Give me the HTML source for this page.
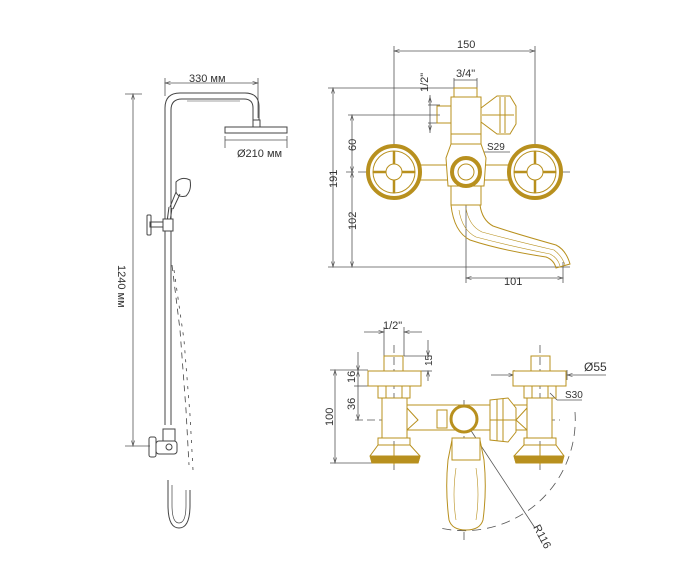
<!DOCTYPE html>
<html><head><meta charset="utf-8"><style>
html,body{margin:0;padding:0;background:#fff;width:700px;height:584px;overflow:hidden}
svg{display:block}
text{font-family:"Liberation Sans",sans-serif;fill:#333}
</style></head><body>
<svg width="700" height="584" viewBox="0 0 700 584" xmlns="http://www.w3.org/2000/svg">
<defs>
<marker id="a" markerWidth="8" markerHeight="6" refX="7" refY="3" orient="auto-start-reverse"><path d="M0,1 L7,3 L0,5" fill="none" stroke="#555" stroke-width="0.8"/></marker>
</defs>
<g stroke="#555" stroke-width="0.8" fill="none">
<!-- ========== SHOWER ========== -->
<line x1="165" y1="83" x2="258" y2="83" marker-start="url(#a)" marker-end="url(#a)"/>
<line x1="165" y1="78" x2="165" y2="96"/><line x1="258" y1="78" x2="258" y2="118"/>
<line x1="133" y1="94" x2="133" y2="446" marker-start="url(#a)" marker-end="url(#a)"/>
<line x1="125" y1="94" x2="142" y2="94"/><line x1="125" y1="446" x2="150" y2="446"/>
<line x1="225" y1="140" x2="287" y2="140"/><line x1="225" y1="136" x2="225" y2="148"/><line x1="287" y1="136" x2="287" y2="148"/>
</g>
<g stroke="#444" stroke-width="1" fill="none">
<path d="M165,425 L165,108 Q165,93 180,93 L245,93 Q259,93 259,107 L259,120"/>
<path d="M171,425 L171,110 Q171,99 182,99 L244,99 Q253,99 253,108 L253,120"/>
<path d="M187,101 L240,101" stroke-width="0.6"/>
<rect x="253" y="120" width="7" height="7"/>
<rect x="225" y="127" width="62" height="6" fill="#fff"/>
<path d="M176,192 L170,207 M180,194 L173,209 M169,207 L167,222 M172,208 L170,222"/>
<path d="M176,182 Q182,176 190,180 Q192,190 186,196 Q178,198 176,192 Z"/>
<rect x="163" y="219" width="10" height="12" fill="#fff"/>
<rect x="150" y="222" width="13" height="5"/>
<rect x="147" y="215" width="4" height="20" rx="1"/>
<rect x="163" y="429" width="12" height="12"/>
<rect x="156" y="441" width="21" height="13" rx="3"/>
<rect x="149" y="437" width="7" height="20" rx="2"/>
<circle cx="169" cy="447" r="3"/>
<path d="M168,480 L168,505 Q168,528 179,528 Q190,528 190,505 L190,490"/>
<path d="M172,485 L172,505 Q172,523 179,523 Q186,523 186,505 L186,490" stroke-width="0.7"/>
<path d="M172,265 L180,330 L186,410 L189,465" stroke-dasharray="6,5" stroke-width="0.8"/>
<path d="M174,270 L184,340 L190,415 L193,470" stroke-dasharray="3,6" stroke-width="0.8"/>
</g>
<text x="189" y="82" font-size="11">330 мм</text>
<text x="237" y="157" font-size="11">Ø210 мм</text>
<text x="0" y="0" font-size="11" transform="translate(118,265) rotate(90)">1240 мм</text>

<!-- ========== TOP FAUCET ========== -->
<g stroke="#555" stroke-width="0.8" fill="none">
<line x1="394" y1="51" x2="535" y2="51" marker-start="url(#a)" marker-end="url(#a)"/>
<line x1="394" y1="46" x2="394" y2="200"/><line x1="535" y1="46" x2="535" y2="200"/>
<line x1="333" y1="88" x2="333" y2="267" marker-start="url(#a)" marker-end="url(#a)"/>
<line x1="328" y1="88" x2="455" y2="88"/>
<line x1="352" y1="115" x2="352" y2="172" marker-start="url(#a)" marker-end="url(#a)"/>
<line x1="352" y1="172" x2="352" y2="267" marker-start="url(#a)" marker-end="url(#a)"/>
<line x1="348" y1="115" x2="440" y2="115"/>
<line x1="328" y1="267" x2="570" y2="267"/>
<line x1="466" y1="278" x2="563" y2="278" marker-start="url(#a)" marker-end="url(#a)"/>
<line x1="466" y1="140" x2="466" y2="283"/><line x1="563" y1="262" x2="563" y2="283"/>
<line x1="430" y1="95" x2="430" y2="133"/>
<line x1="430" y1="97" x2="430" y2="105" marker-start="url(#a)"/>
<line x1="430" y1="123" x2="430" y2="131" marker-end="url(#a)"/>
<line x1="428" y1="105" x2="440" y2="105"/><line x1="428" y1="123" x2="440" y2="123"/>
<line x1="454" y1="80" x2="477" y2="80"/>
<line x1="454" y1="78" x2="454" y2="88"/><line x1="477" y1="78" x2="477" y2="88"/>
<line x1="346" y1="172" x2="572" y2="172" stroke-dasharray="8,4"/>
<line x1="466" y1="100" x2="466" y2="150" stroke-dasharray="8,4"/>
<line x1="470" y1="147" x2="484" y2="152"/><line x1="484" y1="152" x2="510" y2="152"/>
</g>
<text x="457" y="48" font-size="11">150</text>
<text x="456" y="77" font-size="11">3/4"</text>
<text x="0" y="0" font-size="11" transform="translate(428,92) rotate(-90)">1/2"</text>
<text x="0" y="0" font-size="11" transform="translate(337,188) rotate(-90)">191</text>
<text x="0" y="0" font-size="11" transform="translate(356,151) rotate(-90)">60</text>
<text x="0" y="0" font-size="11" transform="translate(356,230) rotate(-90)">102</text>
<text x="504" y="285" font-size="11">101</text>
<text x="487" y="150" font-size="10">S29</text>
<g stroke="#b8901e" stroke-width="1" fill="none">
<rect x="416" y="165" width="98" height="15" fill="#fff"/>
<rect x="451" y="97" width="30" height="40" fill="#fff"/>
<rect x="454" y="88" width="23" height="9"/>
<rect x="437" y="106" width="14" height="17"/>
<path d="M481,108 L497,96 L510,96 L516,106 L516,124 L510,134 L497,134 L481,122 Z" fill="#fff"/>
<path d="M500,97 L500,133 M505,97 L505,133 M482,115 L514,115"/>
<rect x="451" y="134" width="30" height="10" fill="#fff"/>
<path d="M451,144 L446,158 L448,186 L484,186 L486,158 L481,144 Z" fill="#fff"/>
<rect x="451" y="186" width="30" height="19" fill="#fff"/>
<path d="M451,205 Q454,232 470,240 Q500,250 546,257 Q554,260 556,268 L570,264 Q566,250 556,245 Q510,232 493,226 Q482,220 480,205"/>
<path d="M459,210 Q462,230 476,237 Q510,246 550,254 Q558,258 560,266" stroke-width="0.6"/>
<path d="M466,208 Q469,226 482,232 Q515,241 554,250 Q562,256 565,265" stroke-width="0.6"/>
<circle cx="394" cy="172" r="26" stroke-width="4" fill="#fff"/>
<circle cx="394" cy="172" r="21"/>
<circle cx="394" cy="172" r="8"/>
<path d="M394,151 L394,164 M394,180 L394,193 M373,172 L386,172 M402,172 L415,172" stroke-width="2.5"/>
<circle cx="535" cy="172" r="26" stroke-width="4" fill="#fff"/>
<circle cx="535" cy="172" r="21"/>
<circle cx="535" cy="172" r="8"/>
<path d="M535,151 L535,164 M535,180 L535,193 M514,172 L527,172 M543,172 L556,172" stroke-width="2.5"/>
<circle cx="466" cy="172" r="14" stroke-width="4" fill="#fff"/>
<circle cx="466" cy="172" r="8"/>
</g>

<!-- ========== BOTTOM FAUCET ========== -->
<g stroke="#555" stroke-width="0.8" fill="none">
<line x1="364" y1="332" x2="384" y2="332" marker-end="url(#a)"/><line x1="404" y1="332" x2="422" y2="332" marker-start="url(#a)"/>
<line x1="384" y1="327" x2="384" y2="356"/><line x1="404" y1="327" x2="404" y2="356"/>
<line x1="335" y1="370" x2="335" y2="463" marker-start="url(#a)" marker-end="url(#a)"/>
<line x1="330" y1="370" x2="368" y2="370"/><line x1="330" y1="463" x2="372" y2="463"/>
<line x1="358" y1="352" x2="358" y2="371" marker-end="url(#a)"/>
<line x1="358" y1="371" x2="358" y2="386" marker-start="url(#a)"/>
<line x1="358" y1="386" x2="358" y2="420" marker-end="url(#a)"/>
<line x1="354" y1="386" x2="370" y2="386"/>
<line x1="428" y1="340" x2="428" y2="356" marker-end="url(#a)"/>
<line x1="428" y1="371" x2="428" y2="381" marker-start="url(#a)"/>
<line x1="404" y1="356" x2="432" y2="356"/><line x1="421" y1="371" x2="432" y2="371"/>
<line x1="491" y1="375" x2="514" y2="375" marker-end="url(#a)"/><line x1="567" y1="375" x2="606" y2="375" marker-start="url(#a)"/>
<line x1="514" y1="370" x2="514" y2="380"/><line x1="567" y1="370" x2="567" y2="380"/>
<line x1="550" y1="393" x2="557" y2="400"/><line x1="557" y1="400" x2="582" y2="400"/>
<line x1="355" y1="420" x2="560" y2="420" stroke-dasharray="8,4"/>
<line x1="394" y1="345" x2="394" y2="470" stroke-dasharray="8,4"/>
<line x1="540" y1="345" x2="540" y2="470" stroke-dasharray="8,4"/>
<line x1="464" y1="400" x2="464" y2="540" stroke-dasharray="8,4"/>
<line x1="464" y1="420" x2="535" y2="528"/>
<path d="M575,412 A111,111 0 0 1 440,528" stroke-dasharray="9,6"/>
</g>
<text x="383" y="329" font-size="11">1/2"</text>
<text x="0" y="0" font-size="10" transform="translate(432,366) rotate(-90)">15</text>
<text x="0" y="0" font-size="11" transform="translate(355,383) rotate(-90)">16</text>
<text x="0" y="0" font-size="11" transform="translate(355,410) rotate(-90)">36</text>
<text x="0" y="0" font-size="11" transform="translate(333,426) rotate(-90)">100</text>
<text x="584" y="371" font-size="12">Ø55</text>
<text x="565" y="398" font-size="10">S30</text>
<text x="0" y="0" font-size="11" transform="translate(533,527) rotate(62)">R116</text>
<g stroke="#b8901e" stroke-width="1" fill="none">
<rect x="407" y="405" width="123" height="25" fill="#fff"/>
<rect x="437" y="410" width="10" height="18"/>
<path d="M490,400 L508,398 L516,408 L516,432 L508,442 L490,440 Z" fill="#fff"/>
<path d="M497,399 L497,441 M503,399 L503,441 M490,420 L516,420"/>
<path d="M452,440 L448,460 Q445,490 449,520 Q452,530 466,530 Q480,530 483,520 Q487,490 484,460 L480,440 Z" fill="#fff"/>
<path d="M456,468 Q452,495 456,520 M476,468 Q480,495 476,520" stroke-width="0.6"/>
<rect x="452" y="438" width="28" height="22" fill="#fff"/>
<circle cx="464" cy="419" r="13" stroke-width="3" fill="#fff"/>
<g id="col">
<rect x="384" y="356" width="19" height="15"/>
<rect x="368" y="371" width="53" height="15" fill="#fff"/>
<rect x="378" y="386" width="32" height="12"/>
<path d="M386,386 L386,398 M402,386 L402,398"/>
<rect x="382" y="398" width="25" height="40" fill="#fff"/>
<path d="M407,408 L418,420 L407,430"/>
<rect x="378" y="438" width="32" height="7"/>
<path d="M378,445 L370,456 L372,463 L418,463 L420,456 L410,445 Z" fill="#fff"/>
<path d="M371,456 L420,456 L418,463 L372,463 Z" fill="#b8901e"/>
<line x1="394" y1="445" x2="394" y2="465"/>
</g>
<use href="#col" transform="translate(934,0) scale(-1,1)"/>
</g>
</svg>
</body></html>
